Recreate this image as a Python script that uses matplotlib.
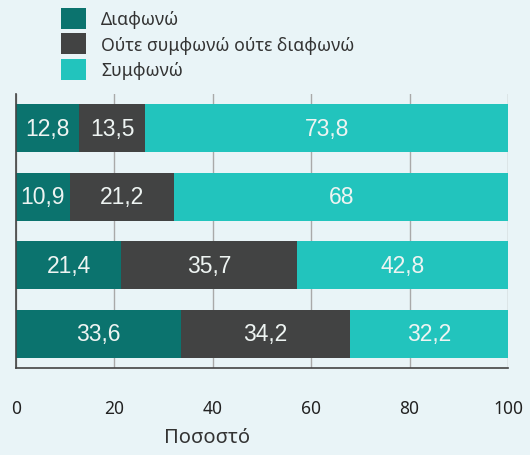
import matplotlib.pyplot as plt
import numpy as np

# Data (rows top to bottom)
disagree = [12.8, 10.9, 21.4, 33.6]
neutral = [13.5, 21.2, 35.7, 34.2]
agree = [73.8, 68, 42.8, 32.2]
series_names = ['Διαφωνώ', 'Ούτε συμφωνώ ούτε διαφωνώ', 'Συμφωνώ']
colors = ['#0b736e', '#424343', '#22c4bd']
xticks = [0, 20, 40, 60, 80, 100]


def fmt(v):
    s = ('%.1f' % v).rstrip('0').rstrip('.')
    return s.replace('.', ',')


fig = plt.figure(figsize=(5.3, 4.56), dpi=100)
fig.patch.set_facecolor('#e9f4f7')
ax = fig.add_axes([16 / 530, 1 - 369 / 456, 492 / 530, 274 / 456])
ax.set_facecolor('none')

y = np.arange(len(disagree))
left = np.zeros(len(disagree))
for vals, name, c in zip([disagree, neutral, agree], series_names, colors):
    vals = np.array(vals, dtype=float)
    bars = ax.barh(y, vals, left=left, height=0.7, color=c, label=name, zorder=2)
    for b, v in zip(bars, vals):
        ax.text(b.get_x() + b.get_width() / 2, b.get_y() + b.get_height() / 2, fmt(v),
                ha='center', va='center', color='#eef4f2', fontsize=16.5,
                family='Liberation Sans', zorder=3)
    left += vals

ax.set_xlim(0, 100)
ax.set_ylim(-0.5, len(disagree) - 0.5)
ax.invert_yaxis()
ax.set_yticks([])
ax.set_xticks(xticks)
ax.set_xticklabels([str(t) for t in xticks], family='Noto Sans', fontsize=12.5, color='#222222')
ax.tick_params(axis='x', length=0, pad=22)
ax.grid(axis='x', color='#a9a9a9', linewidth=1, zorder=1)

for s in ['top', 'right']:
    ax.spines[s].set_visible(False)
for s in ['left', 'bottom']:
    ax.spines[s].set_color('#444444')
    ax.spines[s].set_linewidth(1.2)

fig.text(207 / 530, 1 - 438 / 456, 'Ποσοστό', ha='center', va='center',
         family='Noto Sans', fontsize=14.5, color='#333333')

fig.legend(loc='upper left', bbox_to_anchor=(61 / 530, 1 - 9 / 456), frameon=False,
           borderaxespad=0, borderpad=0, handlelength=1.42, handleheight=1.45,
           labelspacing=0.25, handletextpad=0.85,
           prop={'family': 'Noto Sans', 'size': 12.7}, labelcolor='#333333')

fig.savefig('out.png', dpi=100, facecolor=fig.get_facecolor())
